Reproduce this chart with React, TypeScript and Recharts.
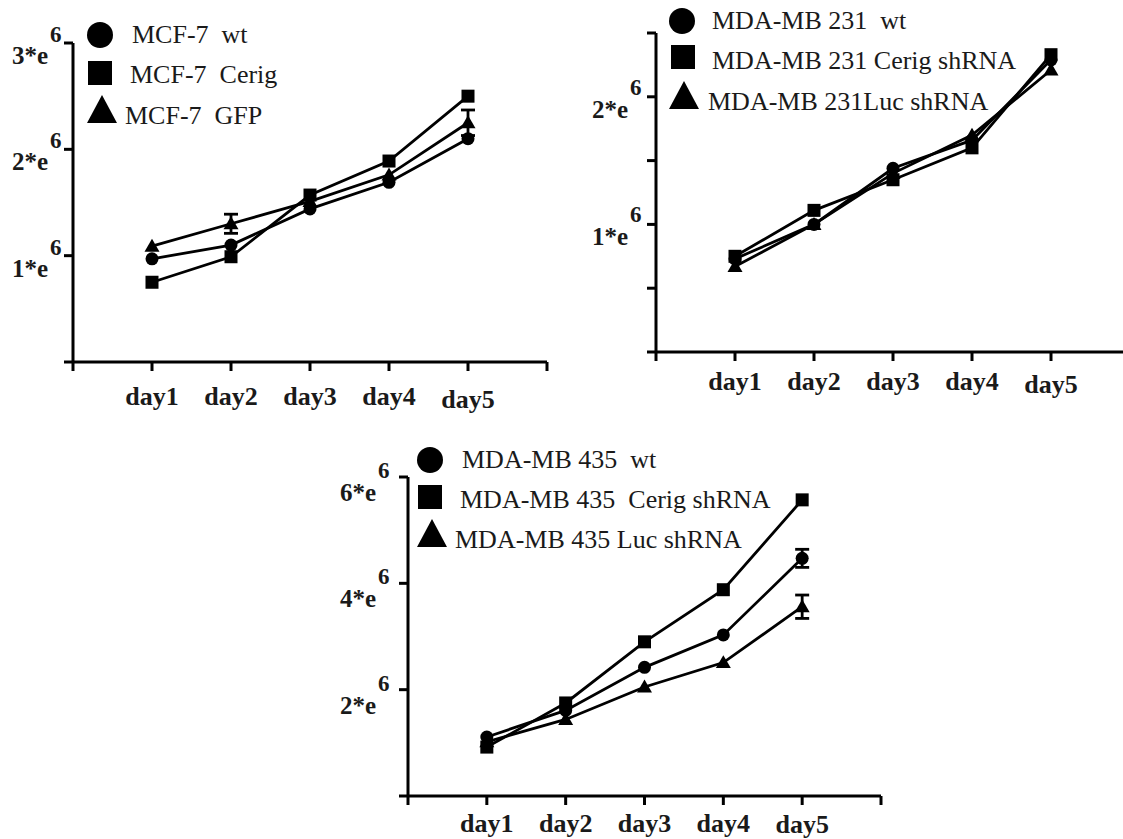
import React from 'react';
import { LineChart, Line, XAxis, YAxis, ErrorBar, Legend } from 'recharts';

const FONT = "'Liberation Serif', 'Times New Roman', serif";

const days = [1, 2, 3, 4, 5];
const dayLabels = ['day1', 'day2', 'day3', 'day4', 'day5'];
const xTicks = [0, 1, 2, 3, 4, 5, 6];

// MCF-7
const mcfWt = [0.97, 1.1, 1.44, 1.69, 2.1];
const mcfCerig = [0.75, 0.99, 1.57, 1.89, 2.5];
const mcfGfp = [1.09, 1.3, 1.51, 1.76, 2.25];
const mcfGfpErr = [0, 0.09, 0, 0, 0.12];
const mcfNames = ['MCF-7  wt', 'MCF-7  Cerig', 'MCF-7  GFP'];
const mcfYTicks = [0, 1, 2, 3];
const mcfYLabels: Record<number, string> = { 1: '1', 2: '2', 3: '3' };

// MDA-MB 231
const m231Wt = [0.73, 1.0, 1.44, 1.66, 2.29];
const m231Cerig = [0.75, 1.11, 1.35, 1.6, 2.33];
const m231Luc = [0.67, 1.0, 1.4, 1.7, 2.21];
const m231Names = ['MDA-MB 231  wt', 'MDA-MB 231 Cerig shRNA', 'MDA-MB 231Luc shRNA'];
const m231YTicks = [0, 0.5, 1, 1.5, 2, 2.5];
const m231YLabels: Record<number, string> = { 1: '1', 2: '2' };

// MDA-MB 435
const m435Wt = [1.11, 1.61, 2.42, 3.03, 4.47];
const m435WtErr = [0, 0, 0, 0, 0.17];
const m435Cerig = [0.92, 1.75, 2.9, 3.88, 5.57];
const m435Luc = [1.02, 1.44, 2.05, 2.51, 3.56];
const m435LucErr = [0, 0, 0, 0, 0.22];
const m435Names = ['MDA-MB 435  wt', 'MDA-MB 435  Cerig shRNA', 'MDA-MB 435 Luc shRNA'];
const m435YTicks = [0, 2, 4, 6];
const m435YLabels: Record<number, string> = { 2: '2', 4: '4', 6: '6' };

type Shape = 'circle' | 'square' | 'triangle';

const drawShape = (shape: Shape, cx: number, cy: number, s: number, key?: string) => {
  if (shape === 'circle') return <circle key={key} cx={cx} cy={cy} r={s / 2} fill="#000" />;
  if (shape === 'square') return <rect key={key} x={cx - s / 2} y={cy - s / 2} width={s} height={s} fill="#000" />;
  const h = s * 0.95;
  return (
    <polygon
      key={key}
      points={`${cx},${cy - h * 0.6} ${cx - s / 2 - 1},${cy + h * 0.45} ${cx + s / 2 + 1},${cy + h * 0.45}`}
      fill="#000"
    />
  );
};

const dotFor = (shape: Shape) => (props: any) =>
  drawShape(shape, props.cx, props.cy, 13, `${shape}-${props.index}`);

const DayTick = (props: any) => {
  const i = days.indexOf(props.payload.value);
  if (i < 0) return <g />;
  return (
    <text
      x={props.x}
      y={props.y + props.dyy + (i === 4 ? props.lastDy : 0)}
      textAnchor="middle"
      fontFamily={FONT}
      fontWeight="bold"
      fontSize={26}
      fill="#1a1a1a"
    >
      {dayLabels[i]}
    </text>
  );
};

const ExpTick = (props: any) => {
  const lab = props.labels[props.payload.value];
  if (!lab) return <g />;
  const o = props.off;
  return (
    <g fontFamily={FONT} fontWeight="bold" fill="#1a1a1a">
      <text x={props.x + o.main} y={props.y + o.mainDy} textAnchor="end" fontSize={25}>
        {lab}*e
      </text>
      <text x={props.x + o.sup} y={props.y + o.supDy} textAnchor="start" fontSize={23}>
        6
      </text>
    </g>
  );
};

type LegendPos = { mx: number; my: number; tx: number; ty: number };

const makeLegend = (names: string[], shapes: Shape[], pos: LegendPos[], w: number, h: number) => () => (
  <svg width={w} height={h} style={{ display: 'block' }}>
    {names.map((n, i) => (
      <g key={n}>
        {drawShape(shapes[i], pos[i].mx, pos[i].my, shapes[i] === 'triangle' ? 28 : shapes[i] === 'circle' ? 26 : 24)}
        <text
          x={pos[i].tx}
          y={pos[i].ty}
          fontFamily={FONT}
          fontSize={26}
          fill="#1a1a1a"
          style={{ whiteSpace: 'pre' }}
        >
          {n}
        </text>
      </g>
    ))}
  </svg>
);

const shapes: Shape[] = ['circle', 'square', 'triangle'];

type PanelProps = {
  left: number;
  top: number;
  width: number;
  height: number;
  margin: { top: number; right: number; bottom: number; left: number };
  yWidth: number;
  xHeight: number;
  yMax: number;
  yTicks: number[];
  yLabels: Record<number, string>;
  off: { main: number; sup: number; mainDy: number; supDy: number };
  xDy: number;
  lastDy: number;
  names: string[];
  a: number[];
  b: number[];
  c: number[];
  aErr?: number[];
  cErr?: number[];
  legendPos: LegendPos[];
};

const Panel = (p: PanelProps) => {
  const data = days.map((d, i) => ({
    day: d,
    a: p.a[i],
    b: p.b[i],
    c: p.c[i],
    aErr: p.aErr ? p.aErr[i] : 0,
    cErr: p.cErr ? p.cErr[i] : 0,
  }));
  const axisStyle = { stroke: '#000', strokeWidth: 3 };
  return (
    <div style={{ position: 'absolute', left: p.left, top: p.top, width: p.width, height: p.height }}>
      <LineChart width={p.width} height={p.height} data={data} margin={p.margin}>
        <XAxis
          dataKey="day"
          type="number"
          domain={[0, 6]}
          ticks={xTicks}
          height={p.xHeight}
          axisLine={axisStyle}
          tickLine={axisStyle}
          tickSize={9}
          interval={0}
          tick={(t: any) => <DayTick {...t} dyy={p.xDy} lastDy={p.lastDy} />}
        />
        <YAxis
          type="number"
          domain={[0, p.yMax]}
          ticks={p.yTicks}
          width={p.yWidth}
          axisLine={axisStyle}
          tickLine={axisStyle}
          tickSize={9}
          interval={0}
          tick={(t: any) => <ExpTick {...t} labels={p.yLabels} off={p.off} />}
        />
        <Legend
          layout="horizontal"
          verticalAlign="middle"
          align="center"
          wrapperStyle={{ top: 0, left: 0, width: p.width, height: 150 }}
          content={makeLegend(p.names, shapes, p.legendPos, p.width, 150)}
        />
        <Line
          dataKey="a"
          name={p.names[0]}
          type="linear"
          stroke="#000"
          strokeWidth={2.8}
          dot={dotFor('circle')}
          activeDot={false}
          isAnimationActive={false}
        >
          {p.aErr && (
            <ErrorBar dataKey="aErr" direction="y" width={7} stroke="#000" strokeWidth={2.8} isAnimationActive={false} />
          )}
        </Line>
        <Line
          dataKey="b"
          name={p.names[1]}
          type="linear"
          stroke="#000"
          strokeWidth={2.8}
          dot={dotFor('square')}
          activeDot={false}
          isAnimationActive={false}
        />
        <Line
          dataKey="c"
          name={p.names[2]}
          type="linear"
          stroke="#000"
          strokeWidth={2.8}
          dot={dotFor('triangle')}
          activeDot={false}
          isAnimationActive={false}
        >
          {p.cErr && (
            <ErrorBar dataKey="cErr" direction="y" width={7} stroke="#000" strokeWidth={2.8} isAnimationActive={false} />
          )}
        </Line>
      </LineChart>
    </div>
  );
};

export default function App() {
  return (
    <div
      style={{
        position: 'absolute',
        left: 0,
        top: 0,
        width: 1123,
        height: 839,
        overflow: 'hidden',
        background: '#fff',
      }}
    >
      <Panel
        left={0}
        top={0}
        width={580}
        height={420}
        margin={{ top: 43, right: 33, bottom: 8, left: 8 }}
        yWidth={65}
        xHeight={50}
        yMax={3}
        yTicks={mcfYTicks}
        yLabels={mcfYLabels}
        off={{ main: -14, sup: -12, mainDy: 21, supDy: -1 }}
        xDy={32}
        lastDy={3}
        names={mcfNames}
        a={mcfWt}
        b={mcfCerig}
        c={mcfGfp}
        cErr={mcfGfpErr}
        legendPos={[
          { mx: 100, my: 35, tx: 132, ty: 43 },
          { mx: 100, my: 73, tx: 130, ty: 83 },
          { mx: 102, my: 111, tx: 125, ty: 124 },
        ]}
      />
      <Panel
        left={560}
        top={0}
        width={580}
        height={420}
        margin={{ top: 33, right: 10, bottom: 18, left: 11 }}
        yWidth={85}
        xHeight={50}
        yMax={2.5}
        yTicks={m231YTicks}
        yLabels={m231YLabels}
        off={{ main: -17, sup: -15, mainDy: 21, supDy: -2 }}
        xDy={27}
        lastDy={3}
        names={m231Names}
        a={m231Wt}
        b={m231Cerig}
        c={m231Luc}
        legendPos={[
          { mx: 122, my: 21, tx: 152, ty: 29 },
          { mx: 123, my: 57, tx: 152, ty: 69 },
          { mx: 124, my: 97, tx: 148, ty: 110 },
        ]}
      />
      <Panel
        left={330}
        top={420}
        width={580}
        height={419}
        margin={{ top: 57, right: 29, bottom: 3, left: 8 }}
        yWidth={70}
        xHeight={40}
        yMax={6}
        yTicks={m435YTicks}
        yLabels={m435YLabels}
        off={{ main: -21, sup: -19, mainDy: 24, supDy: 1 }}
        xDy={25}
        lastDy={1}
        names={m435Names}
        a={m435Wt}
        b={m435Cerig}
        c={m435Luc}
        aErr={m435WtErr}
        cErr={m435LucErr}
        legendPos={[
          { mx: 100, my: 40, tx: 132, ty: 48 },
          { mx: 100, my: 77, tx: 130, ty: 88 },
          { mx: 102, my: 115, tx: 125, ty: 128 },
        ]}
      />
    </div>
  );
}
